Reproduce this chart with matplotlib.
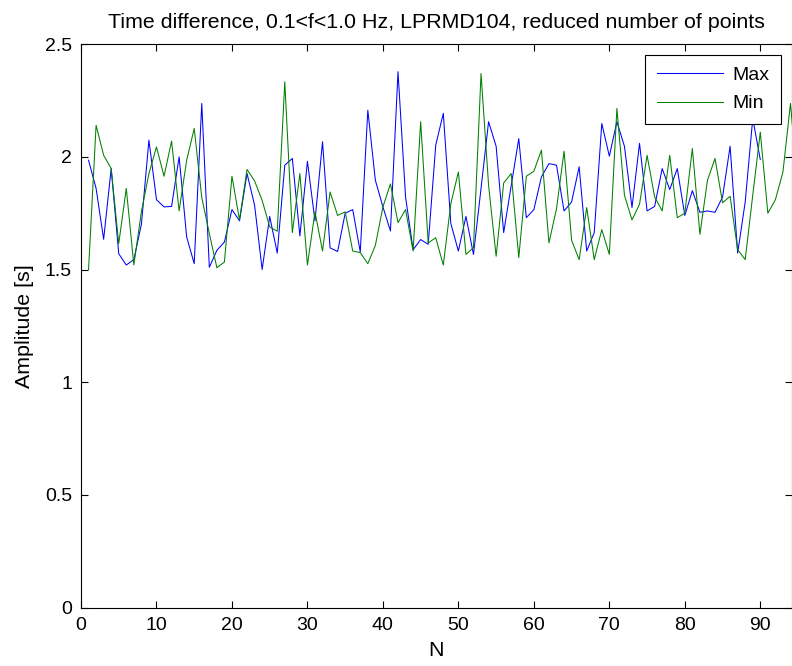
import matplotlib
matplotlib.use("Agg")
import matplotlib.pyplot as plt
import numpy as np

max_vals = [1.985, 1.86, 1.634, 1.948, 1.57, 1.52, 1.544, 1.70, 2.074, 1.81,
            1.778, 1.78, 2.0, 1.644, 1.526, 2.237, 1.51, 1.585, 1.622, 1.766,
            1.716, 1.926, 1.785, 1.50, 1.736, 1.573, 1.963, 1.993, 1.649, 1.98,
            1.716, 2.067, 1.596, 1.58, 1.75, 1.766, 1.578, 2.207, 1.896, 1.778,
            1.671, 2.378, 1.822, 1.588, 1.633, 1.612, 2.052, 2.193, 1.704, 1.582,
            1.736, 1.567, 1.86, 2.156, 2.047, 1.664, 1.873, 2.081, 1.73, 1.766,
            1.911, 1.97, 1.963, 1.76, 1.80, 1.956, 1.582, 1.664, 2.148, 2.003,
            2.156, 2.047, 1.775, 2.06, 1.76, 1.78, 1.948, 1.855, 1.948, 1.74,
            1.85, 1.754, 1.76, 1.754, 1.822, 2.047, 1.573, 1.80, 2.17, 1.988]

min_vals = [1.50, 2.14, 2.007, 1.948, 1.615, 1.86, 1.52, 1.756, 1.926, 2.044,
            1.914, 2.07, 1.76, 1.985, 2.126, 1.82, 1.66, 1.508, 1.533, 1.914,
            1.72, 1.944, 1.893, 1.807, 1.689, 1.67, 2.333, 1.664, 1.926, 1.52,
            1.756, 1.582, 1.844, 1.74, 1.756, 1.582, 1.575, 1.526, 1.607, 1.778,
            1.88, 1.708, 1.766, 1.582, 2.156, 1.618, 1.641, 1.52, 1.793, 1.933,
            1.567, 1.597, 2.37, 1.874, 1.559, 1.884, 1.926, 1.553, 1.914, 1.936,
            2.03, 1.618, 1.77, 2.025, 1.63, 1.544, 1.775, 1.544, 1.677, 1.567,
            2.215, 1.83, 1.72, 1.79, 2.007, 1.822, 1.76, 2.007, 1.73, 1.75,
            2.037, 1.656, 1.896, 1.993, 1.796, 1.825, 1.588, 1.544, 1.83, 2.11,
            1.75, 1.81, 1.933, 2.237, 1.85]

x_max = np.arange(1, len(max_vals) + 1)
x_min = np.arange(1, len(min_vals) + 1)

xticks = [0, 10, 20, 30, 40, 50, 60, 70, 80, 90]
yticks = [0, 0.5, 1, 1.5, 2, 2.5]
ytick_labels = ["0", "0.5", "1", "1.5", "2", "2.5"]

plt.rcParams['font.family'] = ['Liberation Sans', 'DejaVu Sans']
plt.rcParams['font.size'] = 14

fig = plt.figure(figsize=(7.92, 6.66), dpi=100)
ax = fig.add_axes([81/792, 1 - 607.5/666, (792 - 81)/792, (607.5 - 44.2)/666])

ax.plot(x_max, max_vals, color=(0, 0, 1), lw=0.75, label="Max")
ax.plot(x_min, min_vals, color=(0, 0.5, 0), lw=0.75, label="Min")

ax.set_xlim(0, 94.2)
ax.set_ylim(0, 2.5)
ax.set_xticks(xticks)
ax.set_yticks(yticks)
ax.set_yticklabels(ytick_labels)
ax.tick_params(direction='in', top=True, right=True, length=5, width=0.8,
               labelsize=14)
ax.tick_params(axis='x', pad=7)
ax.tick_params(axis='y', pad=6.5)
for s in ax.spines.values():
    s.set_linewidth(0.8)

ax.set_title("Time difference, 0.1<f<1.0 Hz, LPRMD104, reduced number of points",
             fontsize=15.4, pad=12)
ax.set_xlabel("N", fontsize=15.4, labelpad=5)
ax.set_ylabel("Amplitude [s]", fontsize=15.4, labelpad=8)

leg = ax.legend(loc='upper right', fancybox=False, edgecolor='black',
                framealpha=1, borderaxespad=0.55, handlelength=3.4,
                labelspacing=0.55, borderpad=0.6, handletextpad=0.5,
                fontsize=14)
leg.get_frame().set_linewidth(0.8)

fig.savefig("out.png", dpi=100)
